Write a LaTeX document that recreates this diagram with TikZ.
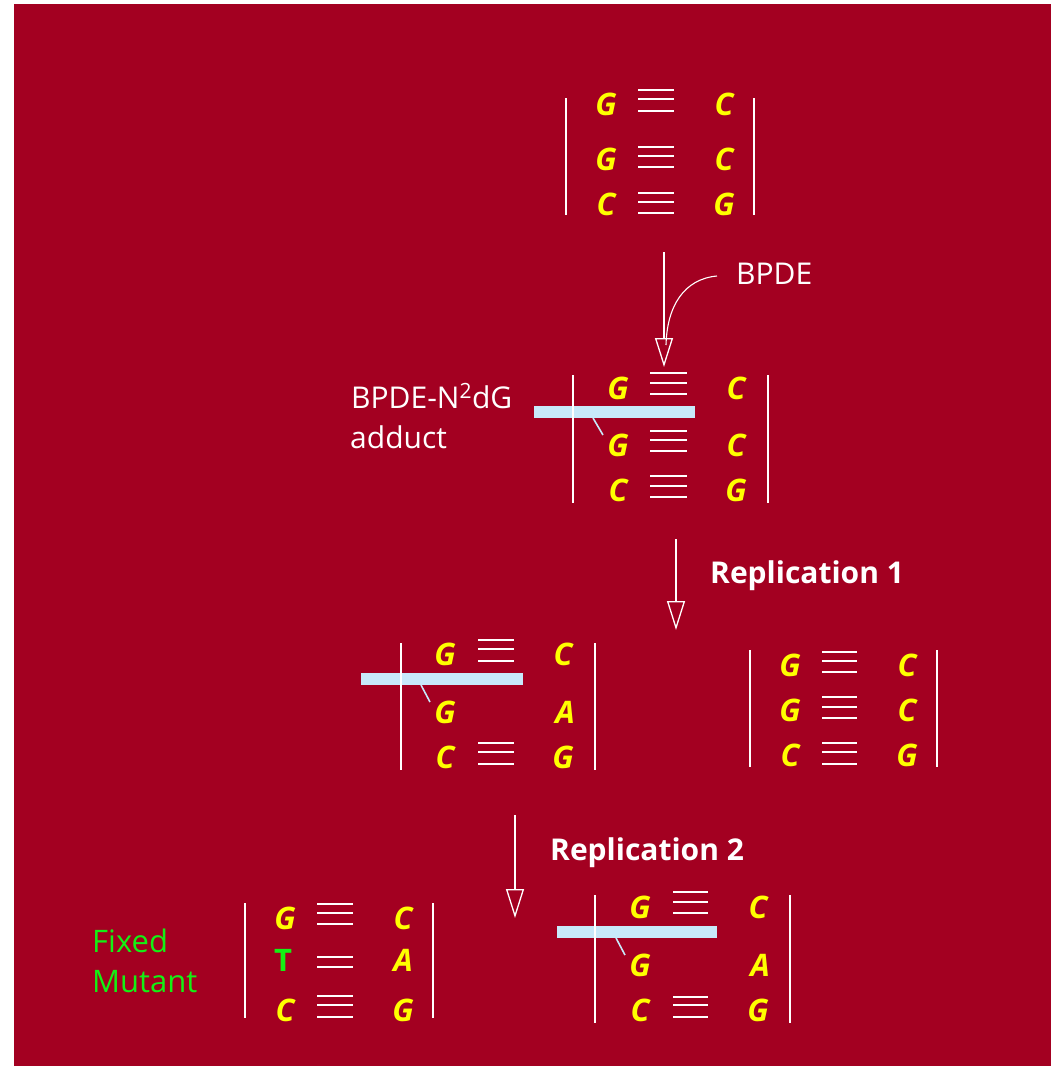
\documentclass[tikz,border=0pt]{standalone}
\usepackage{fontspec}
\setmainfont{Open Sans}
\usetikzlibrary{arrows.meta}
\definecolor{bg}{RGB}{163,0,33}
\definecolor{ylw}{RGB}{255,255,0}
\definecolor{grn}{RGB}{20,240,20}
\definecolor{lblue}{RGB}{200,233,250}
\begin{document}
\begin{tikzpicture}[x=1pt,y=-1pt,
  base/.style={text=ylw, font=\fontsize{31}{31}\selectfont\bfseries\itshape, inner sep=0pt},
  mut/.style={text=grn, font=\fontsize{31}{31}\selectfont\bfseries, inner sep=0pt},
  strand/.style={draw=white, line width=2.4pt},
  hb/.style={draw=white, line width=2pt},
  adductbar/.style={fill=lblue, draw=none},
  pointer/.style={draw=lblue, line width=1.6pt},
  lbl/.style={text=white, font=\fontsize{30}{32}\selectfont, inner sep=0pt, anchor=base west},
  glbl/.style={text=grn, font=\fontsize{31}{32}\selectfont, inner sep=0pt, anchor=base west},
  replbl/.style={text=white, font=\fontsize{30}{32}\selectfont\bfseries, inner sep=0pt, anchor=base west},
  arr/.style={draw=white, line width=1.3pt, -{Triangle[open, length=29pt, width=18pt]}},
  thin/.style={draw=white, line width=1.1pt}]
\useasboundingbox (0,0) rectangle (1057,1071);
\fill[bg] (14,4) rectangle (1051,1066);

% ---------- Block 1 ----------
\draw[strand] (566,98) -- (566,215);
\draw[strand] (754,98) -- (754,215);
\foreach \y in {90,99,111,147,156,167,193,202,213} \draw[hb] (638,\y) -- (674,\y);
\node[base] (a11) at (606,104) {G};
\node[base] (a12) at (724,104) {C};
\node[base] (a21) at (606,159) {G};
\node[base] (a22) at (724,159) {C};
\node[base] (a31) at (606,204) {C};
\node[base] (a32) at (724,204) {G};

% ---------- Arrow with BPDE ----------
\coordinate (ar1s) at (664,252);
\coordinate (ar1e) at (664,367);
\draw[arr] (ar1s) -- (ar1e);
\node[lbl] (bpde) at (736,284) {BPDE};
\coordinate (cvs) at (717,276);
\coordinate (cve) at (666,345);
\draw[thin] (cvs) .. controls (684,279) and (667,306) .. (cve);

% ---------- Block 2 ----------
\fill[adductbar] (534,406) rectangle (695,418);
\draw[pointer] (593,418) -- (603,435);
\draw[strand] (573,375) -- (573,503);
\draw[strand] (768,375) -- (768,503);
\foreach \y in {373,383,394,431,440,451,476,486,497} \draw[hb] (650,\y) -- (687,\y);
\node[base] (b11) at (618,388) {G};
\node[base] (b12) at (736,388) {C};
\node[base] (b21) at (618,445) {G};
\node[base] (b22) at (736,445) {C};
\node[base] (b31) at (618,490) {C};
\node[base] (b32) at (736,490) {G};
\node[lbl] (addA) at (351,408) {BPDE-N\textsuperscript{2}dG};
\node[lbl] (addB) at (350,448) {adduct};

% ---------- Replication 1 ----------
\coordinate (ar2s) at (676,539);
\coordinate (ar2e) at (676,630);
\draw[arr] (ar2s) -- (ar2e);
\node[replbl] (rep1) at (710,583) {Replication 1};

% ---------- Block 3 left ----------
\fill[adductbar] (361,673) rectangle (523,685);
\draw[pointer] (421,685) -- (430,702);
\draw[strand] (401,643) -- (401,770);
\draw[strand] (595,643) -- (595,770);
\foreach \y in {640,649,661,743,752,764} \draw[hb] (478,\y) -- (514,\y);
\node[base] (c11) at (445,654) {G};
\node[base] (c12) at (563,654) {C};
\node[base] (c21) at (445,712) {G};
\node[base] (c22) at (565,712) {A};
\node[base] (c31) at (445,757) {C};
\node[base] (c32) at (563,757) {G};

% ---------- Block 3 right ----------
\draw[strand] (750,650) -- (750,767);
\draw[strand] (937,650) -- (937,767);
\foreach \y in {652,661,672,697,707,718,743,752,764} \draw[hb] (822,\y) -- (857,\y);
\node[base] (d11) at (790,665) {G};
\node[base] (d12) at (907,665) {C};
\node[base] (d21) at (790,710) {G};
\node[base] (d22) at (907,710) {C};
\node[base] (d31) at (790,755) {C};
\node[base] (d32) at (907,755) {G};

% ---------- Replication 2 ----------
\coordinate (ar3s) at (515,815);
\coordinate (ar3e) at (515,918);
\draw[arr] (ar3s) -- (ar3e);
\node[replbl] (rep2) at (550,860) {Replication 2};

% ---------- Block 4 left ----------
\draw[strand] (245,903) -- (245,1018);
\draw[strand] (433,903) -- (433,1018);
\foreach \y in {904,913,924,957,967,996,1005,1017} \draw[hb] (317,\y) -- (353,\y);
\node[base] (e11) at (285,918) {G};
\node[base] (e12) at (403,918) {C};
\node[mut] (e21) at (283,960) {T};
\node[base] (e22) at (403,960) {A};
\node[base] (e31) at (285,1010) {C};
\node[base] (e32) at (403,1010) {G};
\node[glbl] (fx1) at (92,952) {Fixed};
\node[glbl] (fx2) at (92,992) {Mutant};

% ---------- Block 4 right ----------
\fill[adductbar] (557,926) rectangle (717,938);
\draw[pointer] (616,938) -- (625,955);
\draw[strand] (595,895) -- (595,1023);
\draw[strand] (790,895) -- (790,1023);
\foreach \y in {892,902,913,997,1005,1017} \draw[hb] (673,\y) -- (708,\y);
\node[base] (f11) at (640,907) {G};
\node[base] (f12) at (758,907) {C};
\node[base] (f21) at (640,965) {G};
\node[base] (f22) at (760,965) {A};
\node[base] (f31) at (640,1010) {C};
\node[base] (f32) at (758,1010) {G};
\end{tikzpicture}
\end{document}
